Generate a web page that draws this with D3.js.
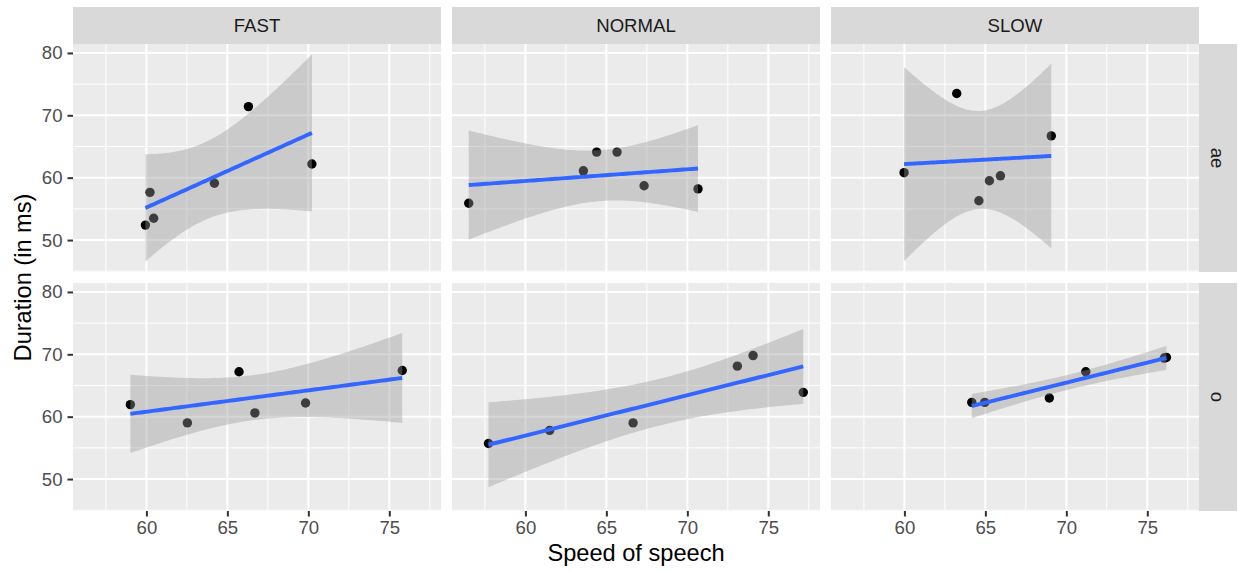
<!DOCTYPE html>
<html>
<head>
<meta charset="utf-8">
<script src="https://cdn.jsdelivr.net/npm/d3@7"></script>
<style>
  body { margin: 0; background: #fff; }
  text { font-family: "Liberation Sans", Arial, sans-serif; }
</style>
</head>
<body>
<div id="chart-area"></div>
<script>
// facets
var speeds = ["FAST", "NORMAL", "SLOW"];
var vowels = ["ae", "o"];

// speed of speech (x) and duration (y) for each facet
var fastAeX   = [59.94, 60.22, 60.45, 64.2, 66.3, 70.22];
var fastAeY   = [52.4, 57.65, 53.5, 59.1, 71.4, 62.2];
var normalAeX = [56.5, 63.58, 64.4, 65.66, 67.33, 70.66];
var normalAeY = [55.9, 61.1, 64.1, 64.1, 58.7, 58.2];
var slowAeX   = [59.98, 63.23, 64.6, 65.25, 65.93, 69.07];
var slowAeY   = [60.8, 73.5, 56.3, 59.5, 60.3, 66.7];
var fastOX    = [59.01, 62.53, 65.72, 66.7, 69.83, 75.8];
var fastOY    = [61.94, 59.0, 67.2, 60.6, 62.2, 67.4];
var normalOX  = [57.72, 61.5, 66.65, 73.09, 74.06, 77.16];
var normalOY  = [55.7, 57.8, 59.0, 68.1, 69.8, 63.9];
var slowOX    = [64.16, 64.96, 68.95, 71.2, 76.05, 76.18];
var slowOY    = [62.3, 62.3, 63.0, 67.2, 69.4, 69.5];

var xTicks = [60, 65, 70, 75];
var yTicks = [50, 60, 70, 80];

var facetData = {
    "FAST|ae": [fastAeX, fastAeY],
    "NORMAL|ae": [normalAeX, normalAeY],
    "SLOW|ae": [slowAeX, slowAeY],
    "FAST|o": [fastOX, fastOY],
    "NORMAL|o": [normalOX, normalOY],
    "SLOW|o": [slowOX, slowOY]
};

// t quantiles (0.975) for lm confidence band
var tq = {3: 3.182446, 4: 2.776445, 5: 2.570582, 6: 2.446912};

// fit y ~ x and build 95% band like geom_smooth(method = "lm")
function fitLm(xs, ys) {
    var n = xs.length;
    var mx = d3.mean(xs), my = d3.mean(ys);
    var sxx = d3.sum(xs, function(x) { return (x - mx) * (x - mx); });
    var sxy = d3.sum(xs, function(x, i) { return (x - mx) * (ys[i] - my); });
    var b = sxy / sxx, a = my - b * mx;
    var rss = d3.sum(xs, function(x, i) { var r = ys[i] - (a + b * x); return r * r; });
    var s = Math.sqrt(rss / (n - 2));
    var t = tq[n - 2];
    var lo = d3.min(xs), hi = d3.max(xs);
    return d3.range(80).map(function(k) {
        var x = lo + (hi - lo) * k / 79;
        var fit = a + b * x;
        var se = s * Math.sqrt(1 / n + (x - mx) * (x - mx) / sxx);
        return {x: x, y: fit, ymin: fit - t * se, ymax: fit + t * se};
    });
}

var panels = [];
vowels.forEach(function(v, r) {
    speeds.forEach(function(sp, c) {
        var xy = facetData[sp + "|" + v];
        var pts = xy[0].map(function(x, i) { return {x: x, y: xy[1][i]}; });
        panels.push({row: r, col: c, speed: sp, vowel: v, points: pts, smooth: fitLm(xy[0], xy[1])});
    });
});

// shared scales (facet_grid fixed scales, 5% expansion)
var allX = [], allY = [];
panels.forEach(function(p) {
    p.points.forEach(function(d) { allX.push(d.x); allY.push(d.y); });
    p.smooth.forEach(function(d) { allY.push(d.ymin, d.ymax); });
});
function expand(ext) {
    var pad = (ext[1] - ext[0]) * 0.05;
    return [ext[0] - pad, ext[1] + pad];
}
var xDom = expand(d3.extent(allX));
var yDom = expand(d3.extent(allY));

var W = 1238, H = 571;
var padL = 73, padR = 1199, padT = 44, padB = 511, gap = 11;
var pw = (padR - padL - gap * 2) / 3;
var ph = (padB - padT - gap) / 2;

var x = d3.scaleLinear().domain(xDom).range([0, pw]);
var y = d3.scaleLinear().domain(yDom).range([ph, 0]);

function minors(ticks, dom) {
    var step = ticks[1] - ticks[0];
    var m = [];
    for (var v = ticks[0] - step / 2; v <= dom[1]; v += step) {
        if (v >= dom[0]) m.push(v);
    }
    return m;
}
var xMinor = minors(xTicks, xDom);
var yMinor = minors(yTicks, yDom);

var svg = d3.select("#chart-area")
    .append("svg")
    .attr("width", W)
    .attr("height", H);

var area = d3.area()
    .x(function(d) { return x(d.x); })
    .y0(function(d) { return y(d.ymin); })
    .y1(function(d) { return y(d.ymax); });
var line = d3.line()
    .x(function(d) { return x(d.x); })
    .y(function(d) { return y(d.y); });

panels.forEach(function(p) {
    var g = svg.append("g")
        .attr("transform", "translate(" + (padL + p.col * (pw + gap)) + "," + (padT + p.row * (ph + gap)) + ")");

    g.append("rect")
        .attr("width", pw).attr("height", ph)
        .attr("fill", "#EBEBEB");

    // grid
    g.selectAll(".xminor").data(xMinor).enter().append("line")
        .attr("x1", x).attr("x2", x).attr("y1", 0).attr("y2", ph)
        .attr("stroke", "#fff").attr("stroke-width", 1);
    g.selectAll(".yminor").data(yMinor).enter().append("line")
        .attr("y1", y).attr("y2", y).attr("x1", 0).attr("x2", pw)
        .attr("stroke", "#fff").attr("stroke-width", 1);
    g.selectAll(".xmajor").data(xTicks).enter().append("line")
        .attr("x1", x).attr("x2", x).attr("y1", 0).attr("y2", ph)
        .attr("stroke", "#fff").attr("stroke-width", 2);
    g.selectAll(".ymajor").data(yTicks).enter().append("line")
        .attr("y1", y).attr("y2", y).attr("x1", 0).attr("x2", pw)
        .attr("stroke", "#fff").attr("stroke-width", 2);

    // points, then ribbon on top, then fitted line
    g.selectAll("circle").data(p.points).enter().append("circle")
        .attr("cx", function(d) { return x(d.x); })
        .attr("cy", function(d) { return y(d.y); })
        .attr("r", 4.7)
        .attr("fill", "#000");

    g.append("path").datum(p.smooth)
        .attr("d", area)
        .attr("fill", "#999999")
        .attr("fill-opacity", 0.4);

    g.append("path").datum(p.smooth)
        .attr("d", line)
        .attr("fill", "none")
        .attr("stroke", "#3366FF")
        .attr("stroke-width", 3.9);

    // top strips
    if (p.row === 0) {
        g.append("rect")
            .attr("x", 0).attr("y", -37).attr("width", pw).attr("height", 37)
            .attr("fill", "#D9D9D9");
        g.append("text")
            .attr("x", pw / 2).attr("y", -18.5)
            .attr("dy", "0.35em")
            .attr("text-anchor", "middle")
            .attr("font-size", 18.6)
            .attr("fill", "#1A1A1A")
            .text(p.speed);
    }
    // right strips
    if (p.col === 2) {
        g.append("rect")
            .attr("x", pw).attr("y", 0).attr("width", 38).attr("height", ph)
            .attr("fill", "#D9D9D9");
        g.append("text")
            .attr("transform", "translate(" + (pw + 19) + "," + (ph / 2) + ") rotate(90)")
            .attr("dy", "0.35em")
            .attr("text-anchor", "middle")
            .attr("font-size", 18.6)
            .attr("fill", "#1A1A1A")
            .text(p.vowel);
    }
    // y axis on left column
    if (p.col === 0) {
        var ya = g.append("g").call(d3.axisLeft(y).tickValues(yTicks).tickSize(5.5).tickPadding(5));
        ya.select(".domain").remove();
        ya.selectAll("line").attr("stroke", "#333333").attr("stroke-width", 2);
        ya.selectAll("text").attr("font-size", 18.6).attr("fill", "#4D4D4D")
            .attr("font-family", "Liberation Sans, Arial, sans-serif");
    }
    // x axis on bottom row
    if (p.row === 1) {
        var xa = g.append("g").attr("transform", "translate(0," + ph + ")")
            .call(d3.axisBottom(x).tickValues(xTicks).tickSize(5.5).tickPadding(4));
        xa.select(".domain").remove();
        xa.selectAll("line").attr("stroke", "#333333").attr("stroke-width", 2);
        xa.selectAll("text").attr("font-size", 18.6).attr("fill", "#4D4D4D")
            .attr("font-family", "Liberation Sans, Arial, sans-serif");
    }
});

// axis titles
svg.append("text")
    .attr("x", (padL + padR) / 2).attr("y", 561)
    .attr("text-anchor", "middle")
    .attr("font-size", 23.6)
    .attr("fill", "#000")
    .text("Speed of speech");

svg.append("text")
    .attr("transform", "translate(31," + ((padT + padB) / 2) + ") rotate(-90)")
    .attr("text-anchor", "middle")
    .attr("font-size", 23.6)
    .attr("fill", "#000")
    .text("Duration (in ms)");
</script>
</body>
</html>
